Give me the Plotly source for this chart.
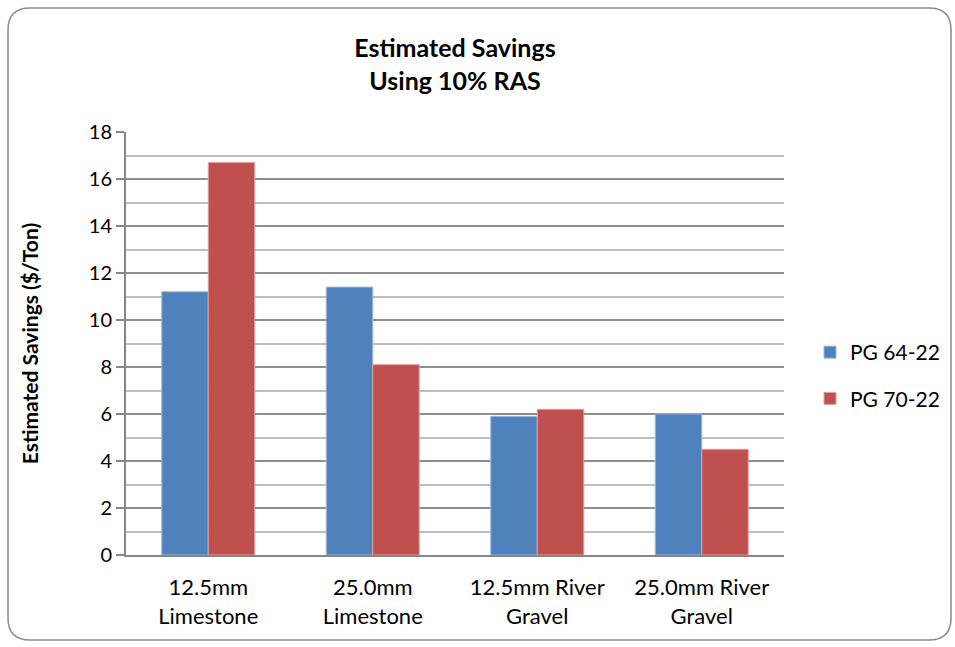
import plotly.graph_objects as go

categories = ["12.5mm<br>Limestone", "25.0mm<br>Limestone", "12.5mm River<br>Gravel", "25.0mm River<br>Gravel"]
pg_64_22 = [11.2, 11.4, 5.9, 6.0]
pg_70_22 = [16.7, 8.1, 6.2, 4.5]
series_names = ["PG 64-22", "PG 70-22"]
y_ticks = [0, 2, 4, 6, 8, 10, 12, 14, 16, 18]

W, H = 955, 647
L, R, T, B = 126, 784, 132, 555

font_family = "Lato, Open Sans, sans-serif"

fig = go.Figure()
fig.add_trace(go.Bar(
    x=categories, y=pg_64_22, name=series_names[0], legendgroup="a",
    marker=dict(color="#4F81BD", line=dict(color="#9BB7DD", width=1)),
))
fig.add_trace(go.Bar(
    x=categories, y=pg_70_22, name=series_names[1], legendgroup="b",
    marker=dict(color="#C0504D", line=dict(color="#E0A09E", width=1)),
))


def px_to_paper(px, py):
    return (px - L) / (R - L), (B - py) / (B - T)


def P(px, py):
    a, b = px_to_paper(px, py)
    return f"{a:.5f},{b:.5f}"


# rounded frame around the whole chart
x0, y0, x1, y1, r = 8, 8, 951, 640, 22
path = (f"M {P(x0 + r, y0)} L {P(x1 - r, y0)} Q {P(x1, y0)} {P(x1, y0 + r)} "
        f"L {P(x1, y1 - r)} Q {P(x1, y1)} {P(x1 - r, y1)} "
        f"L {P(x0 + r, y1)} Q {P(x0, y1)} {P(x0, y1 - r)} "
        f"L {P(x0, y0 + r)} Q {P(x0, y0)} {P(x0 + r, y0)} Z")

fig.update_layout(
    width=W, height=H,
    margin=dict(l=L, r=W - R, t=T, b=H - B, pad=0, autoexpand=False),
    paper_bgcolor="white", plot_bgcolor="white",
    barmode="group", bargap=0.435, bargroupgap=0,
    font=dict(family=font_family, color="#000000"),
    title=dict(
        text="<b>Estimated Savings<br>Using 10% RAS</b>",
        x=0.5, xanchor="center", xref="paper",
        y=1 - 57 / H, yanchor="middle",
        font=dict(size=25, family=font_family),
    ),
    legend=dict(
        xref="container", yref="container",
        x=810 / W, xanchor="left",
        y=1 - 332 / H, yanchor="top",
        font=dict(size=21, family=font_family),
        itemwidth=30, tracegroupgap=16,
        bgcolor="rgba(0,0,0,0)",
    ),
    shapes=[dict(type="path", path=path, xref="paper", yref="paper",
                 line=dict(color="#8C8C8C", width=1.5), fillcolor="rgba(0,0,0,0)",
                 layer="below")],
)

fig.update_xaxes(
    showline=True, linecolor="#868686", linewidth=2,
    ticks="outside", ticklen=12, tickcolor="rgba(0,0,0,0)",
    tickfont=dict(size=22, family=font_family),
    showgrid=False,
)
fig.update_yaxes(
    range=[0, 18], tickvals=y_ticks,
    showline=True, linecolor="#868686", linewidth=2,
    ticks="outside", ticklen=8, tickcolor="#868686", tickwidth=2,
    tickfont=dict(size=20, family=font_family),
    showgrid=True, gridcolor="#8F8F8F", gridwidth=2,
    minor=dict(dtick=1, showgrid=True, gridcolor="#BFBFBF", gridwidth=2),
    zeroline=False,
    title=dict(text="<b>Estimated Savings ($/Ton)</b>", font=dict(size=21, family=font_family), standoff=44),
)

fig.write_html("out.html")
